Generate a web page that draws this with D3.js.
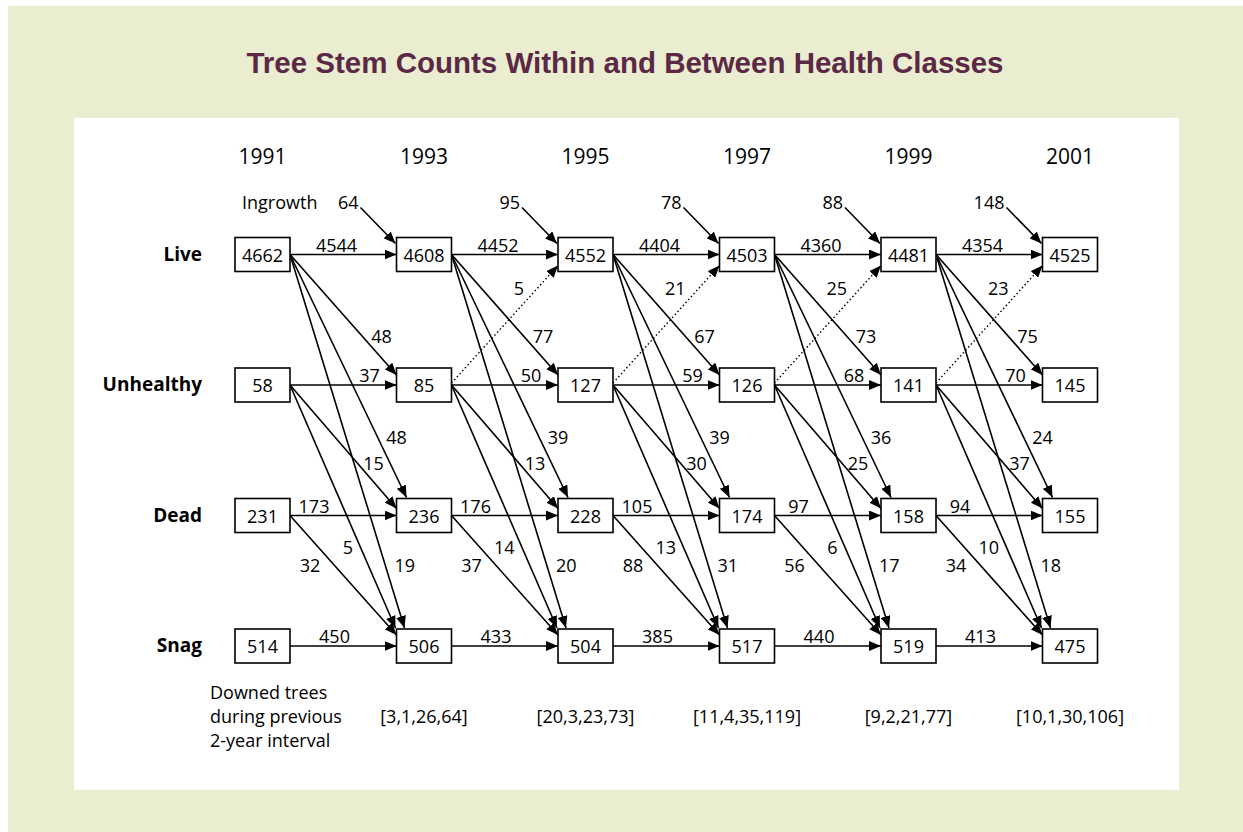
<!DOCTYPE html>
<html><head><meta charset="utf-8">
<script src="https://cdn.jsdelivr.net/npm/d3@7"></script>
<style>body{margin:0;background:#fff;} svg{display:block}</style>
</head><body><svg id="c" width="1243" height="832"></svg>
<script>
// ---------- data ----------
const title = "Tree Stem Counts Within and Between Health Classes";
const years = ["1991", "1993", "1995", "1997", "1999", "2001"];
const classes = ["Live", "Unhealthy", "Dead", "Snag"];
const liveCounts = [4662, 4608, 4552, 4503, 4481, 4525];
const unhealthyCounts = [58, 85, 127, 126, 141, 145];
const deadCounts = [231, 236, 228, 174, 158, 155];
const snagCounts = [514, 506, 504, 517, 519, 475];
const ingrowth = [64, 95, 78, 88, 148];           // into 1993..2001
const downed = ["[3,1,26,64]", "[20,3,23,73]", "[11,4,35,119]", "[9,2,21,77]", "[10,1,30,106]"];
const downedLabel = ["Downed trees", "during previous", "2-year interval"];
// transitions per 2-year interval
const liveToLive = [4544, 4452, 4404, 4360, 4354];
const liveToUnhealthy = [48, 77, 67, 73, 75];
const liveToDead = [48, 39, 39, 36, 24];
const liveToSnag = [19, 20, 31, 17, 18];
const unhealthyToLive = [null, 5, 21, 25, 23];
const unhealthyToUnhealthy = [37, 50, 59, 68, 70];
const unhealthyToDead = [15, 13, 30, 25, 37];
const unhealthyToSnag = [5, 14, 13, 6, 10];
const deadToDead = [173, 176, 105, 97, 94];
const deadToSnag = [32, 37, 88, 56, 34];
const snagToSnag = [450, 433, 385, 440, 413];

const counts = {Live: liveCounts, Unhealthy: unhealthyCounts, Dead: deadCounts, Snag: snagCounts};
const transitions = [
  {from: "Live", to: "Live", key: "LL", values: liveToLive},
  {from: "Live", to: "Unhealthy", key: "LU", values: liveToUnhealthy},
  {from: "Live", to: "Dead", key: "LD", values: liveToDead},
  {from: "Live", to: "Snag", key: "LS", values: liveToSnag},
  {from: "Unhealthy", to: "Live", key: "UL", values: unhealthyToLive, dotted: true},
  {from: "Unhealthy", to: "Unhealthy", key: "UU", values: unhealthyToUnhealthy},
  {from: "Unhealthy", to: "Dead", key: "UD", values: unhealthyToDead},
  {from: "Unhealthy", to: "Snag", key: "US", values: unhealthyToSnag},
  {from: "Dead", to: "Dead", key: "DD", values: deadToDead},
  {from: "Dead", to: "Snag", key: "DS", values: deadToSnag},
  {from: "Snag", to: "Snag", key: "SS", values: snagToSnag}
];

// ---------- layout ----------
const svg = d3.select("#c");
const FONT = "'Open Sans', 'DejaVu Sans', sans-serif";
svg.append("rect").attr("x", 8).attr("y", 6).attr("width", 1235).attr("height", 826).attr("fill", "#eaedd0");
svg.append("rect").attr("x", 74).attr("y", 118).attr("width", 1105).attr("height", 672).attr("fill", "#ffffff");
svg.append("text").attr("x", 625).attr("y", 73).attr("text-anchor", "middle")
  .attr("font-family", "'Liberation Sans', Arial, sans-serif").attr("font-weight", "bold")
  .attr("font-size", 29.5).attr("fill", "#5b2846").text(title);

const x = d3.scalePoint().domain(years).range([262.5, 1070]);
const y = d3.scalePoint().domain(classes).range([254.5, 646]);
const BW = 55, BH = 34;

const defs = svg.append("defs");
defs.append("marker").attr("id", "ah").attr("viewBox", "0 0 12 10")
  .attr("refX", 12).attr("refY", 5).attr("markerWidth", 12).attr("markerHeight", 10)
  .attr("markerUnits", "userSpaceOnUse").attr("orient", "auto")
  .append("path").attr("d", "M0,0L12,5L0,10Z").attr("fill", "#000");

// geometry for each transition type (tip point and label placement)
function geom(key, i) {
  const sx = x(years[i]), tx = x(years[i + 1]);
  const R = sx + BW / 2, L = tx - BW / 2;
  const T = c => y(c) - BH / 2;
  const g = {
    LL: {tip: [L, y("Live")], lab: [L - 60, y("Live") - 10, "middle"]},
    LU: {tip: [L, T("Unhealthy") + 7], lab: [L - 15, y("Unhealthy") - 49, "middle"]},
    LD: {tip: [L + 10, T("Dead") - 1], lab: [L, y("Dead") - 79, "middle"]},
    LS: {tip: [L + 8, T("Snag") - 1], lab: [L - 2, y("Snag") - 81, "start"]},
    UL: {tip: [L, y("Live") + 11], lab: [L - 34, y("Live") + 33, "end"]},
    UU: {tip: [L, y("Unhealthy")], lab: [L - 27, y("Unhealthy") - 10, "middle"]},
    UD: {tip: [L, T("Dead") + 10], lab: [L - 23, y("Dead") - 53, "middle"]},
    US: {tip: [L - 1, T("Snag") - 1], lab: [R + 63, y("Snag") - 99, "end"]},
    DD: {tip: [L, y("Dead")], lab: [R + 24, y("Dead") - 10, "middle"]},
    DS: {tip: [L, T("Snag") + 6], lab: [R + 20, y("Snag") - 81, "middle"]},
    SS: {tip: [L, y("Snag")], lab: [L - 62, y("Snag") - 10, "middle"]}
  }[key];
  return {R, L, g};
}

const lines = svg.append("g");
const labels = svg.append("g").attr("font-family", FONT).attr("font-size", 18).attr("fill", "#000");

transitions.forEach(tr => {
  tr.values.forEach((v, i) => {
    if (v == null) return;
    const {R, g} = geom(tr.key, i);
    const sy = y(tr.from) + (tr.dotted ? -2 : 0);
    lines.append("line").attr("x1", R).attr("y1", sy).attr("x2", g.tip[0]).attr("y2", g.tip[1])
      .attr("stroke", "#000").attr("stroke-width", tr.dotted ? 1.4 : 1.6)
      .attr("stroke-dasharray", tr.dotted ? "1.5,2.5" : null)
      .attr("marker-end", "url(#ah)");
    labels.append("text").attr("x", g.lab[0]).attr("y", g.lab[1])
      .attr("text-anchor", g.lab[2]).attr("dominant-baseline", "central").text(v);
  });
});

// ingrowth arrows
ingrowth.forEach((v, i) => {
  const L = x(years[i + 1]) - BW / 2, T = y("Live") - BH / 2;
  lines.append("line").attr("x1", L - 36).attr("y1", T - 30).attr("x2", L - 1).attr("y2", T + 6)
    .attr("stroke", "#000").attr("stroke-width", 1.6).attr("marker-end", "url(#ah)");
  labels.append("text").attr("x", L - 38).attr("y", y("Live") - 53)
    .attr("text-anchor", "end").attr("dominant-baseline", "central").text(v);
});
labels.append("text").attr("x", 242).attr("y", y("Live") - 53)
  .attr("dominant-baseline", "central").text("Ingrowth");

// boxes
const boxes = svg.append("g");
classes.forEach(c => {
  counts[c].forEach((v, i) => {
    const cx = x(years[i]), cy = y(c);
    boxes.append("rect").attr("x", cx - BW / 2).attr("y", cy - BH / 2).attr("width", BW).attr("height", BH)
      .attr("fill", "#fff").attr("stroke", "#000").attr("stroke-width", 1.6);
    boxes.append("text").attr("x", cx).attr("y", cy).attr("text-anchor", "middle")
      .attr("dominant-baseline", "central").attr("font-family", FONT).attr("font-size", 18).text(v);
  });
});

// year headers
svg.append("g").selectAll("text").data(years).join("text")
  .attr("x", d => x(d)).attr("y", 156).attr("text-anchor", "middle").attr("dominant-baseline", "central")
  .attr("font-family", FONT).attr("font-size", 21).text(d => d);

// row labels
svg.append("g").selectAll("text").data(classes).join("text")
  .attr("x", 202).attr("y", d => y(d) - 1).attr("text-anchor", "end").attr("dominant-baseline", "central")
  .attr("font-family", FONT).attr("font-weight", "bold").attr("font-size", 19).text(d => d);

// downed trees
downedLabel.forEach((t, k) => {
  labels.append("text").attr("x", 210).attr("y", 692 + k * 24).attr("dominant-baseline", "central").text(t);
});
downed.forEach((t, i) => {
  labels.append("text").attr("x", x(years[i + 1])).attr("y", 716).attr("text-anchor", "middle")
    .attr("dominant-baseline", "central").text(t);
});
</script></body></html>
